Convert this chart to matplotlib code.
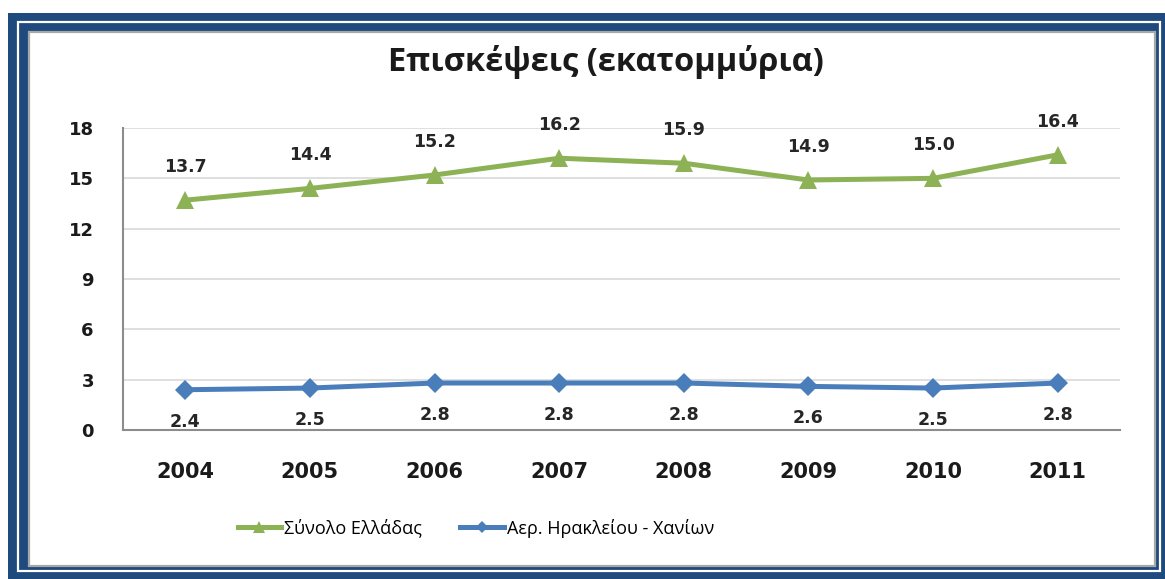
import matplotlib
matplotlib.use("Agg")
import matplotlib.pyplot as plt
from matplotlib.patches import Rectangle
from matplotlib.lines import Line2D

# ---- data ----
years = ["2004", "2005", "2006", "2007", "2008", "2009", "2010", "2011"]
greece_total = [13.7, 14.4, 15.2, 16.2, 15.9, 14.9, 15.0, 16.4]
her_cha = [2.4, 2.5, 2.8, 2.8, 2.8, 2.6, 2.5, 2.8]
yticks = [0, 3, 6, 9, 12, 15, 18]
title = "Επισκέψεις (εκατομμύρια)"
series_names = ["Σύνολο Ελλάδας", "Αερ. Ηρακλείου - Χανίων"]

W, H = 1165, 579
fig = plt.figure(figsize=(W / 100, H / 100), dpi=100)
fig.patch.set_facecolor("white")

def rect_px(x0, y0, x1, y1, **kw):
    r = Rectangle((x0 / W, 1 - y1 / H), (x1 - x0) / W, (y1 - y0) / H,
                  transform=fig.transFigure, **kw)
    fig.patches.append(r)
    return r

FRAME = "#1F4A7E"
rect_px(8, 13, W + 5, H + 5, facecolor=FRAME, edgecolor="none", zorder=0)
rect_px(17.5, 22, 1160, 571, facecolor="none", edgecolor="white", lw=1.6, zorder=1)
rect_px(28.5, 32, 1155, 566, facecolor="white", edgecolor="#A8A8A8", lw=1.6, zorder=2)

GREEN = "#8DB255"
BLUE = "#4A7EBB"

ax = fig.add_axes([123 / W, 1 - 430 / H, (1120 - 123) / W, (430 - 128) / H])
ax.set_zorder(5)
ax.patch.set_alpha(0)
x = list(range(len(years)))

ax.plot(x, greece_total, color=GREEN, lw=3.6, marker="^", ms=13,
        markeredgewidth=0, zorder=4, clip_on=False)
ax.plot(x, her_cha, color=BLUE, lw=3.6, marker="D", ms=10.5,
        markeredgewidth=0, zorder=4, clip_on=False)

for xi, v in zip(x, greece_total):
    ax.annotate(f"{v:.1f}", (xi, v), xytext=(0, 24), textcoords="offset points",
                ha="center", va="center", fontsize=12.5, fontweight="bold",
                color="#262626", family="DejaVu Sans")
for xi, v in zip(x, her_cha):
    ax.annotate(f"{v:.1f}", (xi, v), xytext=(0, -23), textcoords="offset points",
                ha="center", va="center", fontsize=12.5, fontweight="bold",
                color="#262626", family="DejaVu Sans")

ax.set_xlim(-0.5, len(years) - 0.5)
ax.set_ylim(0, 18)
ax.set_yticks(yticks)
ax.set_yticklabels([str(t) for t in yticks])
ax.set_xticks(x)
ax.set_xticklabels(years)
ax.grid(axis="y", color="#D9D9D9", lw=1.2)
ax.set_axisbelow(True)
for s in ["top", "right"]:
    ax.spines[s].set_visible(False)
for s in ["left", "bottom"]:
    ax.spines[s].set_color("#8C8C8C")
    ax.spines[s].set_linewidth(1.5)
ax.tick_params(axis="y", length=0, pad=21, labelsize=13, labelcolor="#1a1a1a")
ax.tick_params(axis="x", length=0, pad=23, labelsize=15, labelcolor="#1a1a1a")
for lab in ax.get_xticklabels() + ax.get_yticklabels():
    lab.set_fontweight("bold")
    lab.set_family("DejaVu Sans")

fig.text(606 / W, 1 - 62 / H, title, ha="center", va="center",
         fontsize=23.5, fontweight="bold", color="#1a1a1a",
         family=["Open Sans", "DejaVu Sans"])

handles = [
    Line2D([], [], color=GREEN, lw=3.6, marker="^", ms=8, markeredgewidth=0),
    Line2D([], [], color=BLUE, lw=3.6, marker="D", ms=6, markeredgewidth=0),
]
fig.legend(handles, series_names, loc="center", bbox_to_anchor=(476 / W, 1 - 528 / H),
           ncol=2, frameon=False, handlelength=2.4, handletextpad=0.2,
           columnspacing=2.1, prop={"family": ["Open Sans", "DejaVu Sans"], "size": 13})

fig.savefig("out.png", dpi=100, facecolor="white")
